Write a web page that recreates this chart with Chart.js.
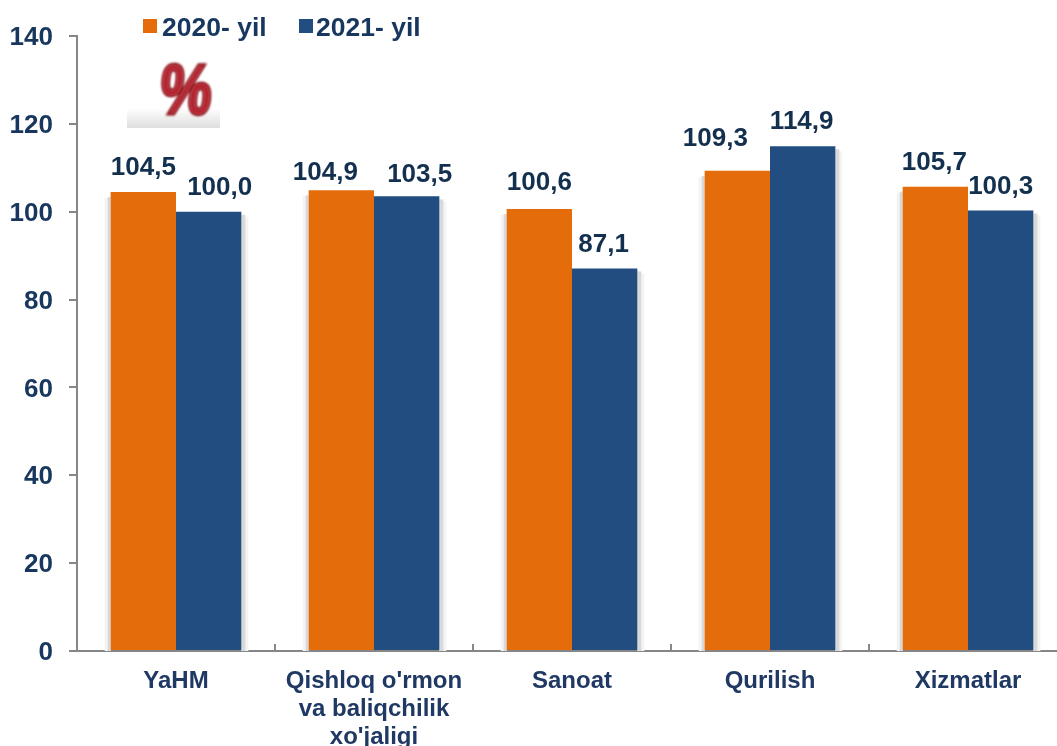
<!DOCTYPE html>
<html>
<head>
<meta charset="utf-8">
<style>
  html, body { margin: 0; padding: 0; background: #fff; overflow: hidden; }
  #wrap { position: relative; width: 1057px; height: 746px; overflow: hidden; }
  #chart { position: absolute; left: 0; top: 0; }
  #legend { position: absolute; left: 143px; top: 11px; font: bold 26.5px "Liberation Sans", Arial, sans-serif; color: #17375e; white-space: nowrap; }
  #legend span.item { position: absolute; top: 0; line-height: 32px; }
  #legend i { position: absolute; top: 8px; width: 14px; height: 14px; }
</style>
</head>
<body>
<div id="wrap">
  <canvas id="chart" width="1070" height="746"></canvas>
  <div id="legend"></div>
</div>
<script src="https://cdn.jsdelivr.net/npm/chart.js@4"></script>
<script>
const categories = ['YaHM', ["Qishloq o'rmon", 'va baliqchilik', "xo'jaligi"], 'Sanoat', 'Qurilish', 'Xizmatlar'];
const seriesNames = ['2020- yil', '2021- yil'];
const values2020 = [104.5, 104.9, 100.6, 109.3, 105.7];
const values2021 = [100.0, 103.5, 87.1, 114.9, 100.3];
const yTicks = [0, 20, 40, 60, 80, 100, 120, 140];

const ORANGE = '#e46c0a';
const BLUE = '#224d81';
const NAVY = '#17375e';
const AXIS = '#868686';
const FONT = '"Liberation Sans", Arial, sans-serif';

// labels in the original are hand placed, so each one gets a small nudge
const labelNudges = [
    [[0, 0], [-16, 7], [0, -2], [-22, -8], [-1, 0]],
    [[11, 0], [13, 2], [-1, 0], [-1, 0], [0, 0]]
];

// legend is html, the original overlaps the plot area
const legendEl = document.getElementById('legend');
[[0, 19, ORANGE], [156, 173, BLUE]].forEach((pos, i) => {
    const box = document.createElement('i');
    box.style.left = pos[0] + 'px';
    box.style.background = pos[2];
    legendEl.appendChild(box);
    const text = document.createElement('span');
    text.className = 'item';
    text.style.left = pos[1] + 'px';
    text.textContent = seriesNames[i];
    legendEl.appendChild(text);
});

const barShadow = {
    id: 'barShadow',
    beforeDatasetsDraw(chart) {
        const ctx = chart.ctx;
        const base = chart.scales.y.getPixelForValue(0);
        ctx.save();
        chart.getDatasetMeta(0).data.forEach((bar) => {
            const left = bar.x - bar.width / 2;
            ctx.fillStyle = '#f4f4f4';
            ctx.fillRect(left - 6, bar.y + 6, 6, base - bar.y - 6);
            ctx.fillStyle = '#d9d9d9';
            ctx.fillRect(left - 3, bar.y + 5, 3, base - bar.y - 5);
        });
        chart.getDatasetMeta(1).data.forEach((bar) => {
            const right = bar.x + bar.width / 2;
            ctx.fillStyle = '#f4f4f4';
            ctx.fillRect(right, bar.y + 5, 7, base - bar.y - 5);
            ctx.fillStyle = '#d9d9d9';
            ctx.fillRect(right, bar.y + 3, 4, base - bar.y - 3);
        });
        ctx.restore();
    }
};

const valueLabels = {
    id: 'valueLabels',
    afterDatasetsDraw(chart) {
        const ctx = chart.ctx;
        ctx.save();
        ctx.font = 'bold 26px ' + FONT;
        ctx.fillStyle = '#14304f';
        ctx.textAlign = 'center';
        ctx.textBaseline = 'middle';
        chart.data.datasets.forEach((ds, d) => {
            chart.getDatasetMeta(d).data.forEach((bar, i) => {
                const nudge = labelNudges[d][i];
                const text = ds.data[i].toFixed(1).replace('.', ',');
                ctx.fillText(text, bar.x + nudge[0], bar.y - 24 + nudge[1]);
            });
        });
        ctx.restore();
    }
};

// the little red percent picture in the corner
const percentBadge = {
    id: 'percentBadge',
    afterDraw(chart) {
        const ctx = chart.ctx;
        ctx.save();
        const floor = ctx.createLinearGradient(0, 108, 0, 128);
        floor.addColorStop(0, 'rgba(200,200,200,0)');
        floor.addColorStop(1, 'rgba(200,200,200,0.6)');
        ctx.fillStyle = floor;
        ctx.fillRect(127, 108, 93, 20);
        ctx.translate(186, 94);
        ctx.transform(0.88, 0, -0.1, 1.08, 0, 0);
        ctx.filter = 'blur(1px)';
        ctx.font = 'bold 66px ' + FONT;
        ctx.textAlign = 'center';
        ctx.textBaseline = 'middle';
        ctx.lineWidth = 3;
        ctx.strokeStyle = '#8c1a22';
        ctx.strokeText('%', 0, 0);
        ctx.fillStyle = '#b3242e';
        ctx.fillText('%', 0, 0);
        ctx.restore();
    }
};

new Chart(document.getElementById('chart'), {
    type: 'bar',
    data: {
        labels: categories,
        datasets: [
            { label: seriesNames[0], data: values2020, backgroundColor: ORANGE },
            { label: seriesNames[1], data: values2021, backgroundColor: BLUE }
        ]
    },
    options: {
        responsive: false,
        animation: false,
        devicePixelRatio: 1,
        layout: { padding: { top: 36, right: 3, left: 0, bottom: 0 } },
        datasets: { bar: { barPercentage: 1, categoryPercentage: 0.66 } },
        plugins: {
            legend: { display: false },
            tooltip: { enabled: false }
        },
        scales: {
            x: {
                afterFit(scale) { scale.height = 95; },
                grid: { offset: true, drawOnChartArea: false, color: AXIS, lineWidth: 2, tickLength: -7 },
                border: { color: AXIS, width: 2 },
                ticks: {
                    color: '#1f3864',
                    padding: 23,
                    maxRotation: 0,
                    autoSkip: false,
                    font: { family: FONT, size: 24, weight: 'bold', lineHeight: 1.167 }
                }
            },
            y: {
                min: 0,
                max: 140,
                afterFit(scale) { scale.width = 77; },
                afterBuildTicks(scale) { scale.ticks = yTicks.map((v) => ({ value: v })); },
                grid: { drawOnChartArea: false, color: AXIS, lineWidth: 2, tickLength: 8 },
                border: { color: AXIS, width: 2 },
                ticks: {
                    color: NAVY,
                    padding: 16,
                    labelOffset: 2,
                    font: { family: FONT, size: 26, weight: 'bold' }
                }
            }
        }
    },
    plugins: [barShadow, valueLabels, percentBadge]
});
</script>
</body>
</html>
